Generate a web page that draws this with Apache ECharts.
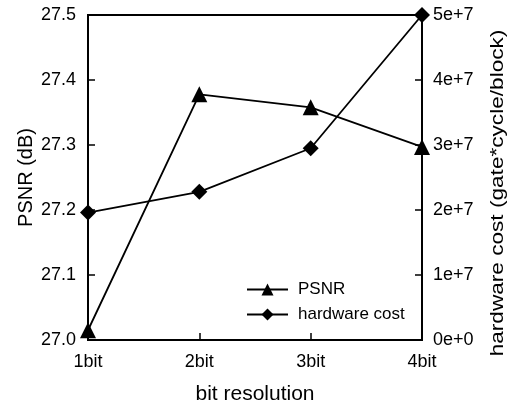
<!DOCTYPE html>
<html><head><meta charset="utf-8">
<script src="https://cdn.jsdelivr.net/npm/echarts@6/dist/echarts.min.js"></script>
<style>html,body{margin:0;padding:0;background:#fff}#c{width:509px;height:411px}</style>
</head><body><div id="c"></div>
<script>
var categories = ['1bit', '2bit', '3bit', '4bit'];
var psnr = [27.015, 27.378, 27.358, 27.297];
var hardwareCost = [1.96e7, 2.28e7, 2.95e7, 5.0e7];
var leftTicks = [27.0, 27.1, 27.2, 27.3, 27.4, 27.5];
var rightTicks = ['0e+0', '1e+7', '2e+7', '3e+7', '4e+7', '5e+7'];
var xTitle = 'bit resolution';
var leftTitle = 'PSNR (dB)';
var rightTitle = 'hardware cost (gate*cycle/block)';

var font = 'Liberation Sans, Arial, sans-serif';
var chart = echarts.init(document.getElementById('c'));
var axisLine = {show: true, lineStyle: {color: '#000', width: 2}};
var tick = {show: true, inside: true, length: 7, lineStyle: {color: '#000', width: 1.5}};
chart.setOption({
  animation: false,
  backgroundColor: '#fff',
  grid: {left: 88, right: 87, top: 15, bottom: 71, show: true, borderColor: '#000', borderWidth: 2},
  legend: {
    orient: 'vertical', left: 241, top: 276, itemWidth: 41, itemHeight: 15, itemGap: 8,
    textStyle: {color: '#000', fontFamily: font, fontSize: 17, padding: [0, 0, 0, 5]},
    data: ['PSNR', 'hardware cost']
  },
  graphic: [{
    type: 'text', x: 498, y: 193, rotation: Math.PI / 2, scaleX: 1.19, scaleY: 1,
    style: {text: rightTitle, fill: '#000', fontSize: 19, fontFamily: font, align: 'center', verticalAlign: 'middle'}
  }],
  xAxis: {
    type: 'category', data: categories, boundaryGap: false,
    name: xTitle, nameLocation: 'middle', nameGap: 44,
    nameTextStyle: {color: '#000', fontFamily: font, fontSize: 21},
    axisLine: axisLine, axisTick: tick,
    axisLabel: {color: '#000', fontFamily: font, fontSize: 18, margin: 13},
    splitLine: {show: false}
  },
  yAxis: [{
    type: 'value', min: leftTicks[0], max: leftTicks[leftTicks.length - 1], interval: 0.1,
    name: leftTitle, nameLocation: 'middle', nameGap: 52, nameMoveOverlap: false,
    nameTextStyle: {color: '#000', fontFamily: font, fontSize: 20},
    axisLine: axisLine, axisTick: tick,
    axisLabel: {color: '#000', fontFamily: font, fontSize: 18, margin: 12,
      formatter: function (v) { return v.toFixed(1); }},
    splitLine: {show: false}
  }, {
    type: 'value', min: 0, max: 5e7, interval: 1e7, position: 'right',
    axisLine: axisLine, axisTick: tick,
    axisLabel: {color: '#000', fontFamily: font, fontSize: 18, margin: 11,
      formatter: function (v) { return rightTicks[Math.round(v / 1e7)]; }},
    splitLine: {show: false}
  }],
  series: [{
    name: 'PSNR', type: 'line', yAxisIndex: 0, data: psnr,
    symbol: 'triangle', symbolSize: 16,
    lineStyle: {color: '#000', width: 1.8}, itemStyle: {color: '#000'}
  }, {
    name: 'hardware cost', type: 'line', yAxisIndex: 1, data: hardwareCost,
    symbol: 'diamond', symbolSize: 16,
    lineStyle: {color: '#000', width: 1.8}, itemStyle: {color: '#000'}
  }]
});
</script></body></html>
